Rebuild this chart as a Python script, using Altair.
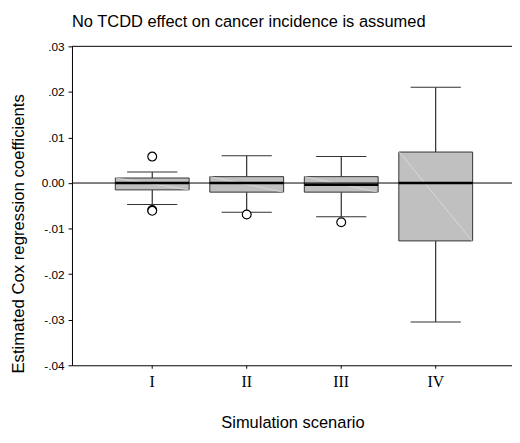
import altair as alt
import pandas as pd

chart_title = "No TCDD effect on cancer incidence is assumed"
scenarios = ["I", "II", "III", "IV"]
whisker_low = [-0.0047, -0.0064, -0.0074, -0.0305]
q1 = [-0.0015, -0.0020, -0.0020, -0.0127]
median = [0.0000, 0.0000, -0.0004, 0.0000]
q3 = [0.0011, 0.0014, 0.0014, 0.0068]
whisker_high = [0.0024, 0.0060, 0.0058, 0.0210]
outlier_scenario = ["I", "I", "I", "II", "III"]
outlier_value = [0.0058, -0.0059, -0.0061, -0.0069, -0.0086]
y_ticks = [-0.04, -0.03, -0.02, -0.01, 0.0, 0.01, 0.02, 0.03]

boxes = pd.DataFrame({
    "scenario": scenarios, "low": whisker_low, "q1": q1,
    "median": median, "q3": q3, "high": whisker_high,
})
outliers = pd.DataFrame({"scenario": outlier_scenario, "value": outlier_value})

FONT = "Liberation Sans"

x_enc = alt.X(
    "scenario:N", sort=scenarios,
    scale=alt.Scale(type="band", paddingInner=0, paddingOuter=0.328, align=0.532),
    axis=alt.Axis(
        title="Simulation scenario", labelAngle=0, labelFont="Liberation Serif",
        labelFontSize=16, labelColor="black", labelPadding=6, tickSize=3,
        tickColor="black", domainColor="black",
        titleFont=FONT, titleFontSize=16.7, titleFontWeight="normal", titleColor="black",
        titleX=224, titleY=63, titleAlign="center", titleBaseline="alphabetic",
    ),
)

y_scale = alt.Scale(domain=[-0.04, 0.03], nice=False, zero=False)
y_axis = alt.Axis(
    values=y_ticks, grid=False, tickSize=4, tickColor="black", domainColor="black",
    labelFont=FONT, labelFontSize=12, labelColor="black", labelPadding=4,
    labelExpr="datum.value == 0 ? '0.00' : (datum.value < 0 ? '-' : '') + '.' + format(round(abs(datum.value) * 100), '02d')",
    title="Estimated Cox regression coefficients", titleFont=FONT, titleFontSize=17,
    titleFontWeight="normal", titleColor="black", titleX=-54, titleY=190,
    titleAngle=270, titleAlign="center", titleBaseline="middle",
)

base = alt.Chart(boxes)

whisk_up = base.mark_rule(color="black", strokeWidth=1).encode(
    x=x_enc, y=alt.Y("q3:Q", scale=y_scale, axis=y_axis), y2="high:Q")
whisk_dn = base.mark_rule(color="black", strokeWidth=1).encode(
    x=x_enc, y=alt.Y("low:Q", scale=y_scale, axis=y_axis), y2="q1:Q")
cap_hi = base.mark_tick(orient="horizontal", size=51, thickness=1, color="#333333", opacity=1).encode(
    x=x_enc, y=alt.Y("high:Q", scale=y_scale, axis=y_axis))
cap_lo = base.mark_tick(orient="horizontal", size=51, thickness=1, color="#333333", opacity=1).encode(
    x=x_enc, y=alt.Y("low:Q", scale=y_scale, axis=y_axis))
box = base.mark_bar(size=75, fill="#c0c0c0", stroke="#333333", strokeWidth=1).encode(
    x=x_enc, y=alt.Y("q1:Q", scale=y_scale, axis=y_axis), y2="q3:Q")
diag = base.mark_rule(color="#dedede", strokeWidth=0.8, xOffset=-37, x2Offset=37).encode(
    x=x_enc, x2="scenario:N", y=alt.Y("q3:Q", scale=y_scale, axis=y_axis), y2="q1:Q")
zero = alt.Chart(pd.DataFrame({"v": [0.0]})).mark_rule(color="black", strokeWidth=1).encode(
    y=alt.Y("v:Q", scale=y_scale, axis=y_axis))
top = alt.Chart(pd.DataFrame({"v": [0.03]})).mark_rule(color="black", strokeWidth=1).encode(
    y=alt.Y("v:Q", scale=y_scale, axis=y_axis))
med = base.mark_tick(orient="horizontal", size=75, thickness=2.5, color="black", opacity=1).encode(
    x=x_enc, y=alt.Y("median:Q", scale=y_scale, axis=y_axis))
outs = alt.Chart(outliers).mark_point(shape="circle", size=80, filled=True, fill="white",
                                       stroke="black", strokeWidth=1.2, opacity=1).encode(
    x=x_enc, y=alt.Y("value:Q", scale=y_scale, axis=y_axis))
title_txt = alt.Chart(pd.DataFrame({"t": [chart_title]})).mark_text(
    align="left", baseline="alphabetic", font=FONT, fontSize=16.7, color="black"
).encode(x=alt.value(0), y=alt.value(-19.5), text="t:N")

chart = alt.layer(
    whisk_up, whisk_dn, cap_hi, cap_lo, box, diag, zero, top, med, outs, title_txt
).properties(
    width=447, height=324,
    autosize=alt.AutoSizeParams(type="none"),
    padding={"left": 65, "top": 35.5, "right": 0, "bottom": 75},
).configure_view(stroke=None)

chart.save("out.html", embed_options={"renderer": "svg", "actions": False})
